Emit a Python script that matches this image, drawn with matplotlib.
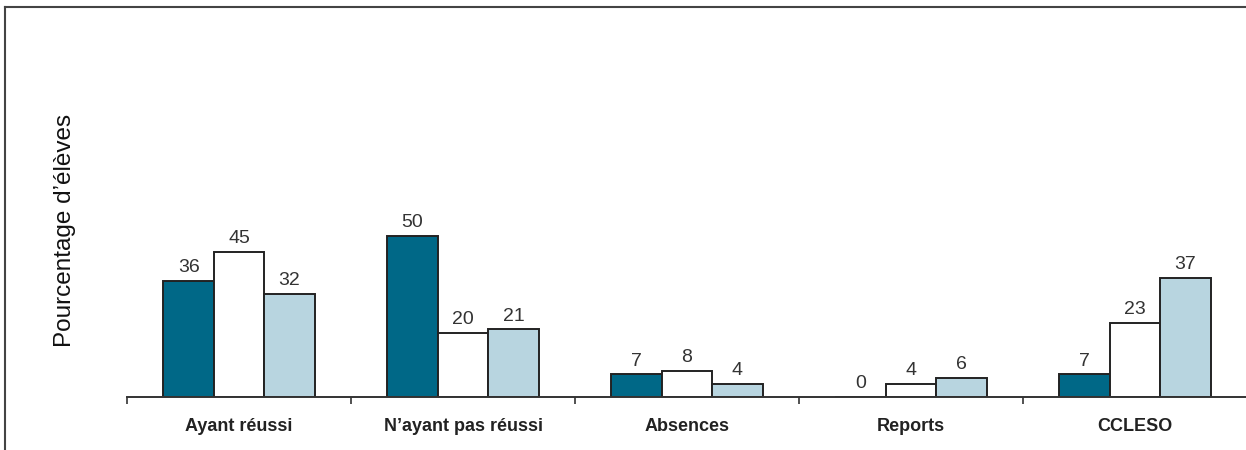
import numpy as np
import matplotlib.pyplot as plt
from matplotlib.lines import Line2D

plt.rcParams['font.family'] = ['Liberation Sans', 'DejaVu Sans']

# Data
categories = ['Ayant réussi', 'N’ayant pas réussi', 'Absences', 'Reports', 'CCLESO']
serie_1 = [36, 50, 7, 0, 7]
serie_2 = [45, 20, 8, 4, 23]
serie_3 = [32, 21, 4, 6, 37]

colors = ['#006887', '#ffffff', '#b8d5e0']
bar_w = 0.225

fig = plt.figure(figsize=(12.46, 4.5), dpi=100)
ax = fig.add_axes([127 / 1246, 53 / 450, 1120 / 1246, 390 / 450])

x = np.arange(len(categories))
for i, (vals, col) in enumerate(zip([serie_1, serie_2, serie_3], colors)):
    pos = x + (i - 1) * bar_w
    ax.bar(pos, vals, width=bar_w, color=col, edgecolor='#222222', linewidth=1.4, zorder=2)
    for px, v in zip(pos, vals):
        ax.text(px, v + 1.5, str(v), ha='center', va='bottom', fontsize=14, color='#333333')

ax.set_xlim(-0.5, len(categories) - 0.5)
ax.set_ylim(0, 390 / 3.22)

# ticks at category boundaries, labels at centres
ax.set_xticks(np.arange(-0.5, len(categories)), [''] * (len(categories) + 1))
ax.set_xticks(x, categories, minor=True)
ax.tick_params(axis='x', which='major', length=5, width=1.2, color='#333333', direction='out')
ax.tick_params(axis='x', which='minor', length=0, pad=15)
for lab in ax.get_xticklabels(minor=True):
    lab.set_fontweight('bold')
    lab.set_fontsize(13)
    lab.set_color('#222222')
ax.set_yticks([])

for s in ['top', 'right', 'left']:
    ax.spines[s].set_visible(False)
ax.spines['bottom'].set_color('#333333')
ax.spines['bottom'].set_linewidth(1.4)
ax.patch.set_alpha(0)

fig.text(65 / 1246, 1 - 230 / 450, 'Pourcentage d’élèves', rotation=90,
         ha='center', va='center', fontsize=17.5, color='#111111')

# outer frame (top and left visible)
fig.add_artist(Line2D([5 / 1246, 1.01], [1 - 7 / 450, 1 - 7 / 450], color='#444444', lw=1.5))
fig.add_artist(Line2D([5 / 1246, 5 / 1246], [-0.01, 1 - 7 / 450], color='#444444', lw=1.5))

fig.savefig('out.png', dpi=100)
